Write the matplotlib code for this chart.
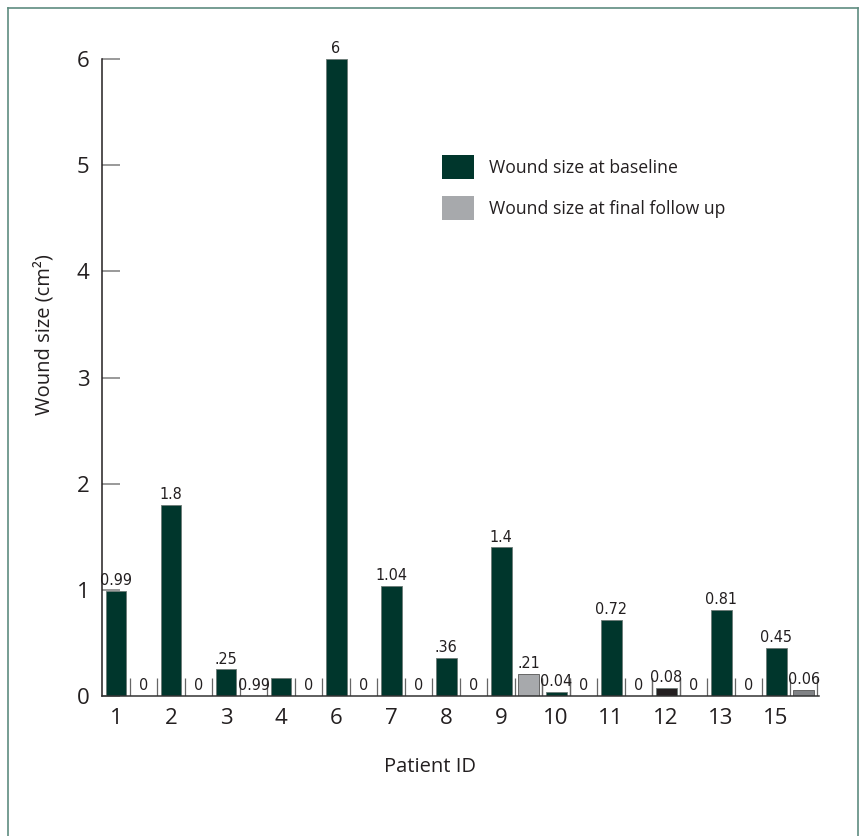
import numpy as np
import matplotlib
matplotlib.use("Agg")
from matplotlib import pyplot as plt
from matplotlib.patches import Patch
from matplotlib.lines import Line2D

plt.rcParams['font.family'] = ['Open Sans', 'DejaVu Sans']

# data
patients = ['1', '2', '3', '4', '6', '7', '8', '9', '10', '11', '12', '13', '15']
baseline = [0.99, 1.8, 0.25, 0.17, 6, 1.04, 0.36, 1.4, 0.04, 0.72, 0.08, 0.81, 0.45]
followup = [0, 0, 0, 0, 0, 0, 0, 0.21, 0, 0, 0, 0, 0.06]
baseline_labels = ['0.99', '1.8', '.25', '', '6', '1.04', '.36', '1.4', '0.04', '0.72', '0.08', '0.81', '0.45']
followup_labels = ['0', '0', '0.99', '0', '0', '0', '0', '.21', '0', '0', '0', '0', '0.06']

green = '#00362c'
grey = '#a7a9ac'
base_colors = [green] * len(patients)
base_colors[10] = '#231f20'
follow_colors = [grey] * len(patients)
follow_colors[12] = '#808285'

fig = plt.figure(figsize=(8.65, 8.36), dpi=100)
ax = fig.add_axes([102 / 865, 1 - 696 / 836, 717 / 865, 637 / 836])

x = np.arange(len(patients))
xf = x + 0.5
w = 0.38
ax.bar(x, baseline, width=w, color=base_colors, edgecolor='#6d7a76', linewidth=0.6, zorder=2)
ax.bar(xf, followup, width=w, color=follow_colors, edgecolor='#555555', linewidth=0.6, zorder=2)

# small bracket marks round the near-zero slots
bh = 0.17
for i in range(len(patients)):
    ax.vlines([xf[i] - 0.25, xf[i] + 0.25], 0, bh, color='#666666', lw=0.9, zorder=1)
    if baseline[i] < 0.1:
        ax.vlines([x[i] - 0.25, x[i] + 0.25], 0, bh, color='#666666', lw=0.9, zorder=1)

lab = dict(textcoords='offset points', ha='center', va='bottom', fontsize=11.5,
           family='DejaVu Sans', fontstretch='condensed', color='#231f20', annotation_clip=False)
for i in range(len(patients)):
    if baseline_labels[i]:
        ax.annotate(baseline_labels[i], (x[i], baseline[i]), xytext=(0, 2), **lab)
    ax.annotate(followup_labels[i], (xf[i], followup[i]), xytext=(0, 2), **lab)

ax.set_xlim(-0.255, 12.78)
ax.set_ylim(0, 6)
ax.set_xticks(x)
ax.set_xticklabels(patients, fontsize=16)
ax.set_yticks(range(7))
ax.set_yticklabels([str(v) for v in range(7)], fontsize=16)
ax.tick_params(axis='x', length=0, pad=9, colors='#231f20')
ax.tick_params(axis='y', direction='in', length=13, width=1.2, color='#888888', pad=9, labelcolor='#231f20')
for s in ['top', 'right']:
    ax.spines[s].set_visible(False)
ax.spines['left'].set_color('#231f20')
ax.spines['bottom'].set_color('#333333')
ax.spines['left'].set_linewidth(1.1)
ax.spines['bottom'].set_linewidth(1.1)

ax.set_xlabel('Patient ID', fontsize=14.5, color='#231f20')
ax.xaxis.set_label_coords(0.457, -0.095)
ax.set_ylabel('Wound size (cm²)', fontsize=14.5, color='#231f20')
ax.yaxis.set_label_coords(-0.066, 0.567)

handles = [Patch(facecolor=green, edgecolor='none'), Patch(facecolor=grey, edgecolor='none')]
fig.legend(handles, ['Wound size at baseline', 'Wound size at final follow up'],
           loc='upper left', bbox_to_anchor=(426 / 865, 1 - 139 / 836), frameon=False,
           fontsize=12.7, handlelength=1.8, handleheight=1.7, handletextpad=0.85,
           labelspacing=1.0, labelcolor='#231f20')

# outer frame
fc = '#5f8c80'
fig.add_artist(Line2D([8 / 865, 858 / 865], [1 - 8 / 836, 1 - 8 / 836], color=fc, lw=1.2))
fig.add_artist(Line2D([8 / 865, 8 / 865], [0, 1 - 8 / 836], color=fc, lw=1.2))
fig.add_artist(Line2D([858 / 865, 858 / 865], [0, 1 - 8 / 836], color=fc, lw=1.2))

plt.savefig('out.png', dpi=100)
